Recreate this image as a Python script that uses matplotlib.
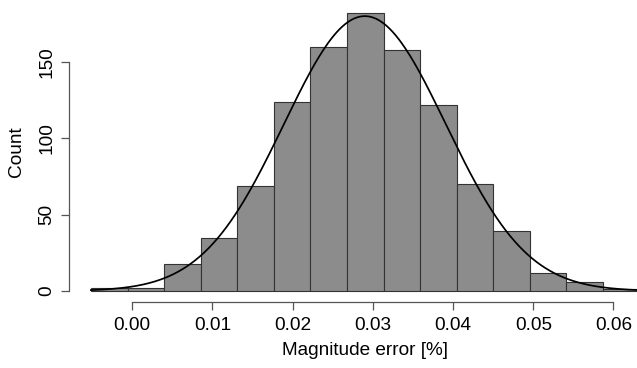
import matplotlib
matplotlib.use("Agg")
import matplotlib.pyplot as plt
import numpy as np

# histogram data
bin_start = -0.00515
bin_width = 0.004561
counts = [2, 2, 18, 35, 69, 124, 160, 182, 158, 122, 70, 39, 12, 6, 1]

# fitted normal curve
fit_mean = 0.0290
fit_sd = 0.0101

x_ticks = [0.00, 0.01, 0.02, 0.03, 0.04, 0.05, 0.06]
x_tick_labels = ["0.00", "0.01", "0.02", "0.03", "0.04", "0.05", "0.06"]
y_ticks = [0, 50, 100, 150]

plt.rcParams['font.family'] = ['Liberation Sans', 'DejaVu Sans']
plt.rcParams['font.size'] = 13.7

W, H = 637, 368
fig = plt.figure(figsize=(W / 100, H / 100), dpi=100)
# plot region in pixels (R style, right side runs past the image edge)
left, right, bottom, top = 69, 661.6, 302.1, 2.2
ax = fig.add_axes([left / W, (H - bottom) / H, (right - left) / W, (bottom - top) / H])

edges = bin_start + bin_width * np.arange(len(counts) + 1)
ax.bar(edges[:-1], counts, width=bin_width, align='edge',
       color='#8c8c8c', edgecolor='#333333', linewidth=0.8)

n = sum(counts)
xs = np.linspace(edges[0], 0.068, 400)
dens = n * bin_width * np.exp(-0.5 * ((xs - fit_mean) / fit_sd) ** 2) / (fit_sd * np.sqrt(2 * np.pi))
ax.plot(xs, dens, color='black', lw=1.25)

span = edges[-1] - edges[0]
ax.set_xlim(edges[0] - 0.04 * span, edges[-1] + 0.04 * span)
ax.set_ylim(-0.04 * max(counts), 1.04 * max(counts))

for s in ['top', 'right']:
    ax.spines[s].set_visible(False)
ax.spines['left'].set_bounds(0, 150)
ax.spines['bottom'].set_bounds(0, 0.06)
for s in ['left', 'bottom']:
    ax.spines[s].set_color('#555555')
    ax.spines[s].set_linewidth(0.9)

ax.set_xticks(x_ticks)
ax.set_xticklabels(x_tick_labels)
ax.set_yticks(y_ticks)
ax.tick_params(length=5.6, width=0.9, color='#555555', pad=4)
ax.tick_params(axis='x', pad=5)
for lab in ax.get_yticklabels():
    lab.set_rotation(90)
    lab.set_va('center')

ax.set_xlabel("Magnitude error [%]", labelpad=6)
ax.set_ylabel("Count", labelpad=10)

fig.savefig("out.png", dpi=100)
